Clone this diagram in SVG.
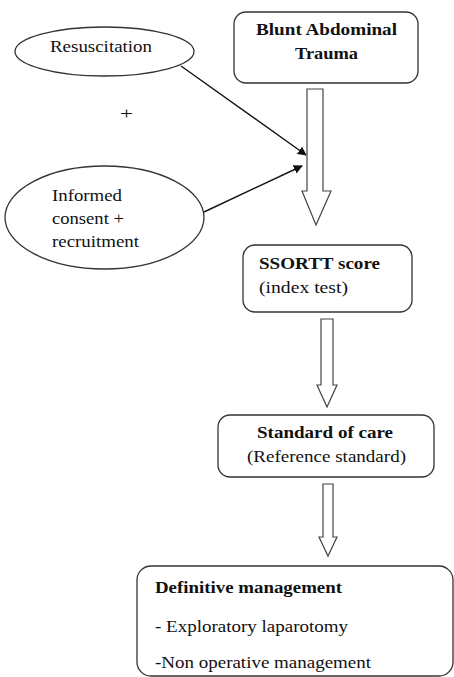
<svg xmlns="http://www.w3.org/2000/svg" width="454" height="677" viewBox="0 0 454 677">
<defs>
<style>
.box{fill:#fff;stroke:#333;stroke-width:1.3}
.hol{fill:#fff;stroke:#444;stroke-width:1.2;stroke-linejoin:miter}
.t{font-family:"Liberation Serif","Times New Roman",serif;font-size:17px;fill:#111}
.b{font-weight:bold}
.c{fill:none;stroke:#111;stroke-width:1.4}
</style>
<marker id="ah" viewBox="0 0 10 10" refX="9" refY="5" markerWidth="9" markerHeight="9" markerUnits="userSpaceOnUse" orient="auto">
<path d="M0,0 L10,5 L0,10 z" fill="#111"/>
</marker>
</defs>
<rect width="454" height="677" fill="#fff"/>
<g id="connectors">
<line class="c" x1="181" y1="66" x2="306" y2="155" marker-end="url(#ah)"/>
<line class="c" x1="204" y1="212" x2="302" y2="166" marker-end="url(#ah)"/>
<polygon class="hol" points="307,89 323,89 323,191 331,191 316,225 302,191 307,191"/>
<polygon class="hol" points="321,319 333,319 333,385 337,385 327,407 317,385 321,385"/>
<polygon class="hol" points="323,484 333,484 333,537 337,537 328,556 319,537 323,537"/>
</g>
<g id="blunt">
<rect class="box" x="234" y="12" width="184" height="71" rx="12"/>
<text class="t b" x="256" y="35" textLength="141" lengthAdjust="spacingAndGlyphs">Blunt Abdominal</text>
<text class="t b" x="295" y="59" textLength="63" lengthAdjust="spacingAndGlyphs">Trauma</text>
</g>
<g id="resus">
<ellipse class="box" cx="104.5" cy="51.5" rx="89.5" ry="24.5"/>
<text class="t" x="50" y="52" textLength="102" lengthAdjust="spacingAndGlyphs">Resuscitation</text>
</g>
<g id="plus">
<text class="t" x="120" y="119" textLength="13" lengthAdjust="spacingAndGlyphs">+</text>
</g>
<g id="consent">
<ellipse class="box" cx="104.5" cy="217.5" rx="99.5" ry="51.5"/>
<text class="t" x="52" y="201" textLength="70" lengthAdjust="spacingAndGlyphs">Informed</text>
<text class="t" x="52" y="224" textLength="72" lengthAdjust="spacingAndGlyphs">consent +</text>
<text class="t" x="52" y="247" textLength="87" lengthAdjust="spacingAndGlyphs">recruitment</text>
</g>
<g id="ssortt">
<rect class="box" x="243" y="245" width="169" height="67" rx="12"/>
<text class="t b" x="259" y="269" textLength="121" lengthAdjust="spacingAndGlyphs">SSORTT score</text>
<text class="t" x="259" y="293" textLength="89" lengthAdjust="spacingAndGlyphs">(index test)</text>
</g>
<g id="standard">
<rect class="box" x="218" y="415" width="216" height="62" rx="12"/>
<text class="t b" x="257" y="438" textLength="136" lengthAdjust="spacingAndGlyphs">Standard of care</text>
<text class="t" x="247" y="462" textLength="159" lengthAdjust="spacingAndGlyphs">(Reference standard)</text>
</g>
<g id="definitive">
<rect class="box" x="137" y="566" width="316" height="110" rx="14"/>
<text class="t b" x="155" y="593" textLength="187" lengthAdjust="spacingAndGlyphs">Definitive management</text>
<text class="t" x="155" y="632" textLength="193" lengthAdjust="spacingAndGlyphs">- Exploratory laparotomy</text>
<text class="t" x="155" y="668" textLength="216" lengthAdjust="spacingAndGlyphs">-Non operative management</text>
</g>
</svg>
